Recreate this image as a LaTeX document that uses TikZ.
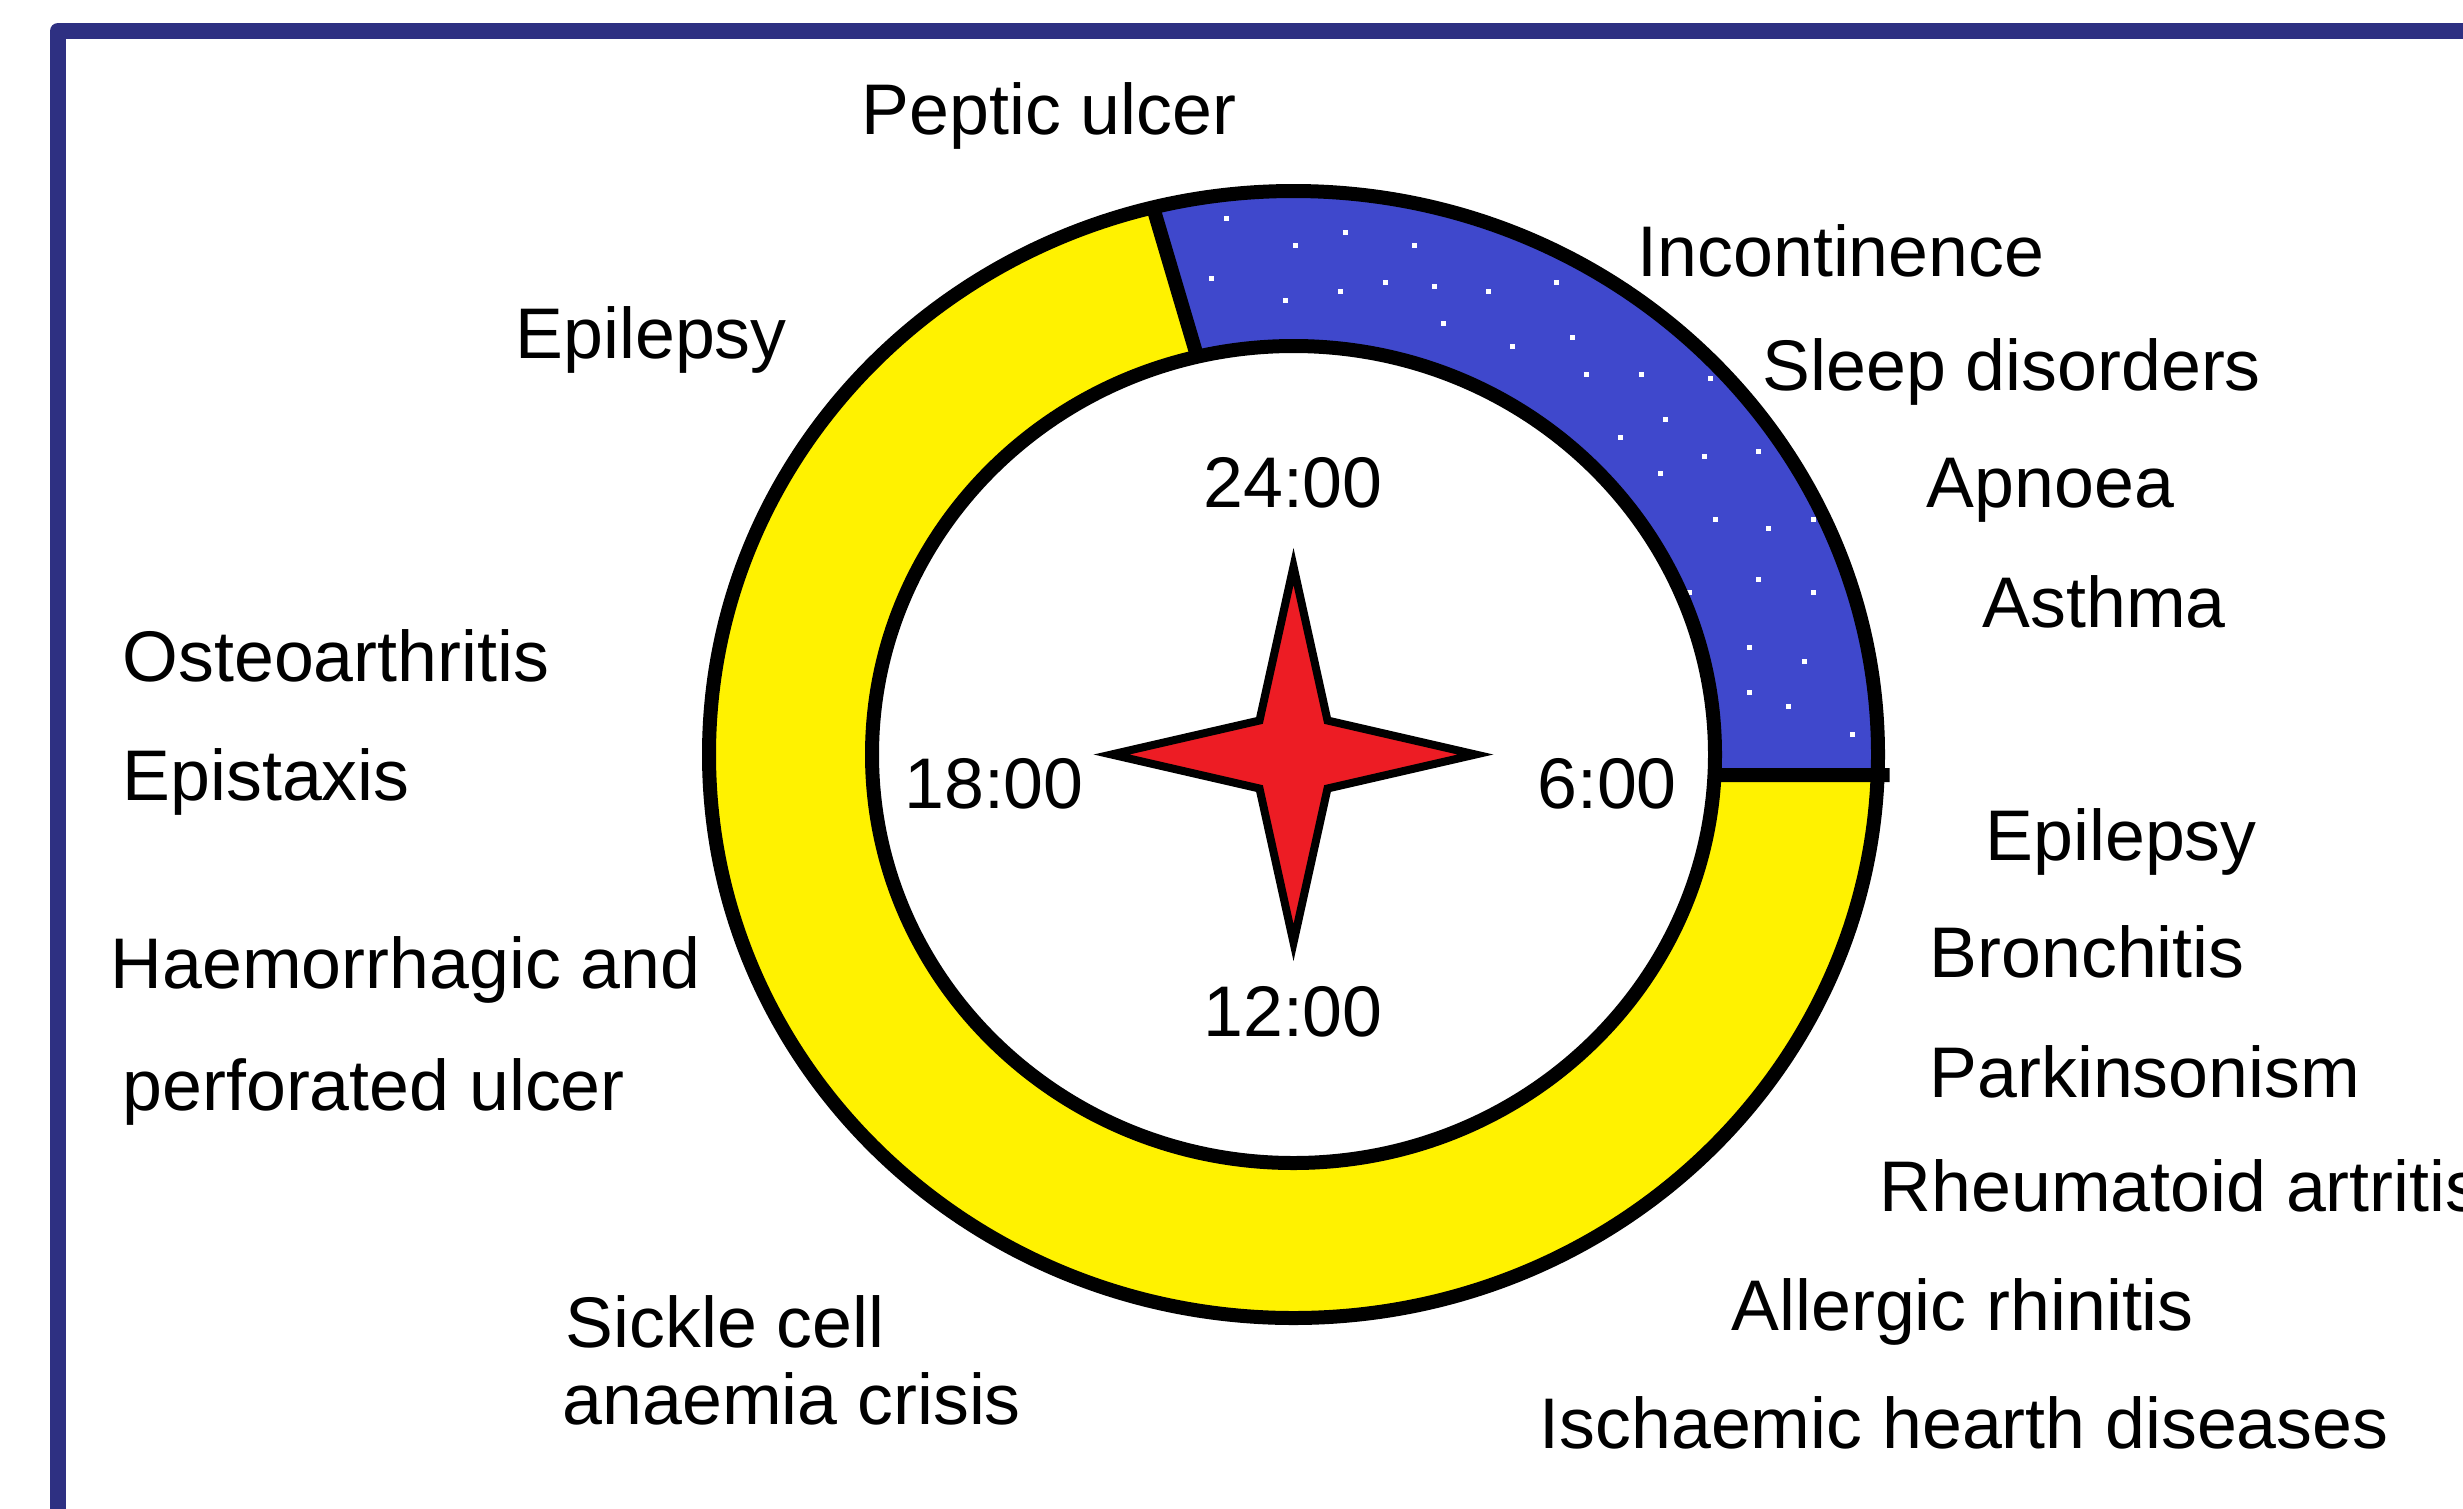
\documentclass[tikz,border=0pt]{standalone}
\usepackage{fontspec}
\setmainfont{Liberation Sans}
\definecolor{RingYellow}{HTML}{FFF200}
\definecolor{RingBlue}{HTML}{3F48CC}
\definecolor{StarRed}{HTML}{ED1C24}
\definecolor{FrameBlue}{HTML}{2E3082}
\tikzset{every node/.style={font=\fontsize{20.4}{24}\selectfont},lbl/.style={anchor=base west,
 inner sep=0pt},hour/.style={anchor=base,inner sep=0pt},ringline/.style={draw=black,
 line width=1.4mm}}
\begin{document}
\begin{tikzpicture}[x=.1mm,y=.1mm]
\useasboundingbox (0,0) rectangle (2463,-1508);
\clip (0,0) rectangle (2463,-1508);
\fill[white] (0,0) rectangle (2463,-1508);
\draw[FrameBlue,line width=1.6mm,line join=round] (2600,-31)--(58,-31)--(58,-1600);
\coordinate (c) at (1293.5,-754.5);
\begin{scope}[shift={(c)}]
 \fill[RingYellow,even odd rule] (0,0) ellipse[x radius=584.5,y radius=563.5]
  (0,0) ellipse[x radius=421.5,y radius=408.5];
 \fill[RingBlue] (103.9:584.5 and 563.5) arc[start angle=103.9,end angle=-2.1,x radius=584.5,
  y radius=563.5]--(-2.9:421.5 and 408.5) arc[start angle=-2.9,end angle=103.2,
  x radius=421.5,y radius=408.5]--cycle;
\end{scope}
\foreach \x/\y in {1226/218,1345/232,1295/245,1414/245,1211/278,1385/282,1340/291,1434/286,
 1488/291,1556/282,1285/300,1443/323,1572/337,1512/346,1586/374,1641/374,1710/378,1665/419,
 1620/437,1704/456,1758/451,1660/473,1715/519,1768/528,1813/519,1758/579,1813/592,1689/592,
 1749/647,1804/661,1749/692,1788/706,1852/734}{
 \fill[white] (\x-2.5,-\y-2.5) rectangle ++(5,5);
}
\begin{scope}[shift={(c)}]
 \draw[ringline] (0,0) ellipse[x radius=584.5,y radius=563.5];
 \draw[ringline] (0,0) ellipse[x radius=421.5,y radius=408.5];
 \draw[ringline] (103.9:584.5 and 563.5)--(103.2:421.5 and 408.5);
 \draw[ringline] (-2.9:421.5 and 408.5)--(596,-20.5);
 \draw[fill=StarRed,line width=.8mm] (0,188)--(34,34)--(182,0)--(34,-34)--(0,-188)
  --(-34,-34)--(-182,0)--(-34,34)--cycle;
\end{scope}
\foreach \x/\y/\t/\n in {1293/507/24:00/h24,994/808/18:00/h18,1607/808/6:00/h6,
 1293/1036/12:00/h12}{
 \node[hour] (\n) at (\x,-\y) {\t};
}
\foreach \x/\y/\t/\n in {861/134/Peptic ulcer/peptic,515/358/Epilepsy/epiL,
 1637/276/Incontinence/incont,1762/390/Sleep disorders/sleep,1926/507/Apnoea/apnoea,
 1982/627/Asthma/asthma,122/681/Osteoarthritis/osteo,122/800/Epistaxis/epist,
 110/988/Haemorrhagic and/haem,122/1110/perforated ulcer/perf,565/1347/Sickle cell/sickle,
 562/1424/anaemia crisis/anaem,1985/860/Epilepsy/epiR,1929/977/Bronchitis/bronch,
 1929/1097/Parkinsonism/parkin,1879/1211/Rheumatoid artritis/rheum,
 1731/1330/Allergic rhinitis/allerg,1539/1448/Ischaemic hearth diseases/isch}{
 \node[lbl] (\n) at (\x,-\y) {\t};
}
\end{tikzpicture}
\end{document}
